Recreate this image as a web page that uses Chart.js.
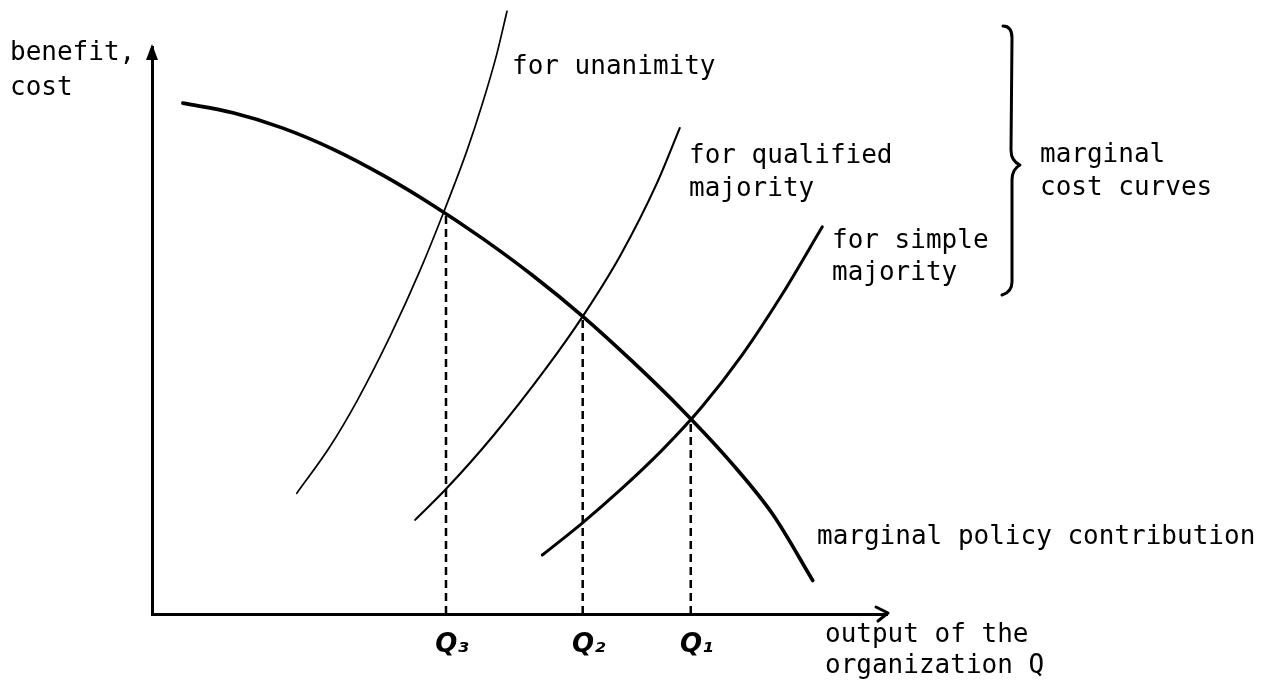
<!DOCTYPE html>
<html>
<head>
<meta charset="utf-8">
<title>Marginal cost curves and marginal policy contribution</title>
<script src="https://cdn.jsdelivr.net/npm/chart.js@4.4.1/dist/chart.umd.min.js"></script>
<style>
    html, body { margin: 0; padding: 0; background: #fff; }
    #wrap { width: 1269px; height: 688px; }
</style>
</head>
<body>
<div id="wrap"><canvas id="chart" width="1269" height="688"></canvas></div>
<script>
(function () {
    'use strict';

    // output Q (x) and benefit / cost (y), arbitrary units 0..100
    const benefitX = [4.2, 11.0, 17.8, 24.6, 31.4, 38.2, 45.0, 51.8, 58.6, 65.4, 72.2, 79.0, 84.5, 89.9];
    const benefitY = [90.1, 88.4, 85.7, 82.0, 77.4, 72.1, 66.2, 59.7, 52.5, 44.5, 35.9, 26.4, 17.5, 5.9];

    const unanimityX = [19.7, 24.2, 27.9, 32.4, 36.5, 39.6, 42.9, 45.0, 46.9, 48.3];
    const unanimityY = [21.3, 29.5, 37.6, 49.0, 60.7, 70.6, 81.9, 90.2, 98.7, 106.3];

    const qualifiedX = [35.8, 39.9, 46.4, 53.7, 58.6, 63.7, 68.7, 71.8];
    const qualifiedY = [16.6, 21.9, 31.4, 43.5, 52.5, 63.2, 76.0, 85.7];

    const simpleX = [53.1, 58.5, 63.9, 69.4, 74.8, 80.3, 85.7, 91.2];
    const simpleY = [10.4, 16.0, 22.1, 28.9, 36.5, 45.7, 56.3, 68.3];

    // equilibrium outputs and the height where the curves cross
    const qValues = [40.0, 58.6, 73.3];
    const qHeights = [70.7, 52.5, 34.6];
    const qLabels = ['Q\u2083', 'Q\u2082', 'Q\u2081'];

    const FONT = '"DejaVu Sans Mono", "Liberation Mono", monospace';

    // free text on the drawing (pixel layout)
    const notes = [
        { text: 'benefit,', x: 10, y: 60 },
        { text: 'cost', x: 10, y: 95 },
        { text: 'for unanimity', x: 512, y: 74 },
        { text: 'for qualified', x: 689, y: 163 },
        { text: 'majority', x: 689, y: 196 },
        { text: 'for simple', x: 832, y: 248 },
        { text: 'majority', x: 832, y: 280 },
        { text: 'marginal', x: 1040, y: 162 },
        { text: 'cost curves', x: 1040, y: 195 },
        { text: 'marginal policy contribution', x: 817, y: 544 },
        { text: 'output of the', x: 825, y: 642 },
        { text: 'organization Q', x: 825, y: 673 }
    ];

    function points(xs, ys) {
        return xs.map(function (x, i) { return { x: x, y: ys[i] }; });
    }

    function curve(label, xs, ys, width) {
        return {
            label: label,
            data: points(xs, ys),
            borderColor: '#000',
            borderWidth: width,
            pointRadius: 0,
            cubicInterpolationMode: 'monotone',
            borderCapStyle: 'round',
            clip: false
        };
    }

    const datasets = [
        curve('marginal policy contribution', benefitX, benefitY, 3.6),
        curve('for unanimity', unanimityX, unanimityY, 1.7),
        curve('for qualified majority', qualifiedX, qualifiedY, 2.1),
        curve('for simple majority', simpleX, simpleY, 3)
    ];

    qValues.forEach(function (q, i) {
        datasets.push({
            label: qLabels[i],
            data: [{ x: q, y: 0 }, { x: q, y: qHeights[i] }],
            borderColor: '#000',
            borderWidth: 2.5,
            borderDash: [8, 5],
            pointRadius: 0,
            clip: false
        });
    });

    const decorations = {
        id: 'decorations',
        afterDraw: function (chart) {
            const ctx = chart.ctx;
            const a = chart.chartArea;
            ctx.save();
            ctx.strokeStyle = '#000';
            ctx.fillStyle = '#000';
            ctx.lineCap = 'round';
            ctx.lineJoin = 'round';

            // arrow on the vertical axis
            ctx.beginPath();
            ctx.moveTo(a.left, a.top - 3);
            ctx.lineTo(a.left - 6, a.top + 13);
            ctx.lineTo(a.left + 6, a.top + 13);
            ctx.closePath();
            ctx.fill();

            // arrow on the horizontal axis
            ctx.lineWidth = 3;
            ctx.beginPath();
            ctx.moveTo(a.right - 11, a.bottom - 7);
            ctx.lineTo(a.right + 1, a.bottom - 1);
            ctx.lineTo(a.right - 9, a.bottom + 7);
            ctx.stroke();

            // brace grouping the cost curves
            ctx.lineWidth = 3;
            ctx.beginPath();
            ctx.moveTo(1003, 26);
            ctx.quadraticCurveTo(1012, 26, 1012, 38);
            ctx.lineTo(1011, 150);
            ctx.quadraticCurveTo(1011, 161, 1020, 165);
            ctx.quadraticCurveTo(1012, 169, 1012, 180);
            ctx.lineTo(1012, 282);
            ctx.quadraticCurveTo(1012, 292, 1002, 295);
            ctx.stroke();

            ctx.font = '26px ' + FONT;
            ctx.textAlign = 'left';
            ctx.textBaseline = 'alphabetic';
            notes.forEach(function (n) {
                ctx.fillText(n.text, n.x, n.y);
            });
            ctx.restore();
        }
    };

    new Chart(document.getElementById('chart'), {
        type: 'line',
        data: { datasets: datasets },
        plugins: [decorations],
        options: {
            responsive: false,
            animation: false,
            events: [],
            layout: { padding: { left: 152, right: 382, top: 47, bottom: 14 } },
            plugins: {
                legend: { display: false },
                tooltip: { enabled: false }
            },
            scales: {
                x: {
                    type: 'linear',
                    min: 0,
                    max: 100,
                    grid: { display: false, drawTicks: false },
                    border: { display: true, color: '#000', width: 3 },
                    afterBuildTicks: function (scale) {
                        scale.ticks = qValues.map(function (v) { return { value: v }; });
                    },
                    afterFit: function (scale) { scale.height = 60; },
                    ticks: {
                        autoSkip: false,
                        maxRotation: 0,
                        padding: 16,
                        labelOffset: 6,
                        color: '#000',
                        font: { family: '"DejaVu Sans", sans-serif', size: 26, style: 'italic', weight: 'bold' },
                        callback: function (value) {
                            const i = qValues.indexOf(value);
                            return i >= 0 ? qLabels[i] : '';
                        }
                    }
                },
                y: {
                    type: 'linear',
                    min: 0,
                    max: 100,
                    grid: { display: false, drawTicks: false },
                    border: { display: true, color: '#000', width: 3 },
                    ticks: { display: false },
                    afterFit: function (scale) { scale.width = 0; }
                }
            }
        }
    });
})();
</script>
</body>
</html>
